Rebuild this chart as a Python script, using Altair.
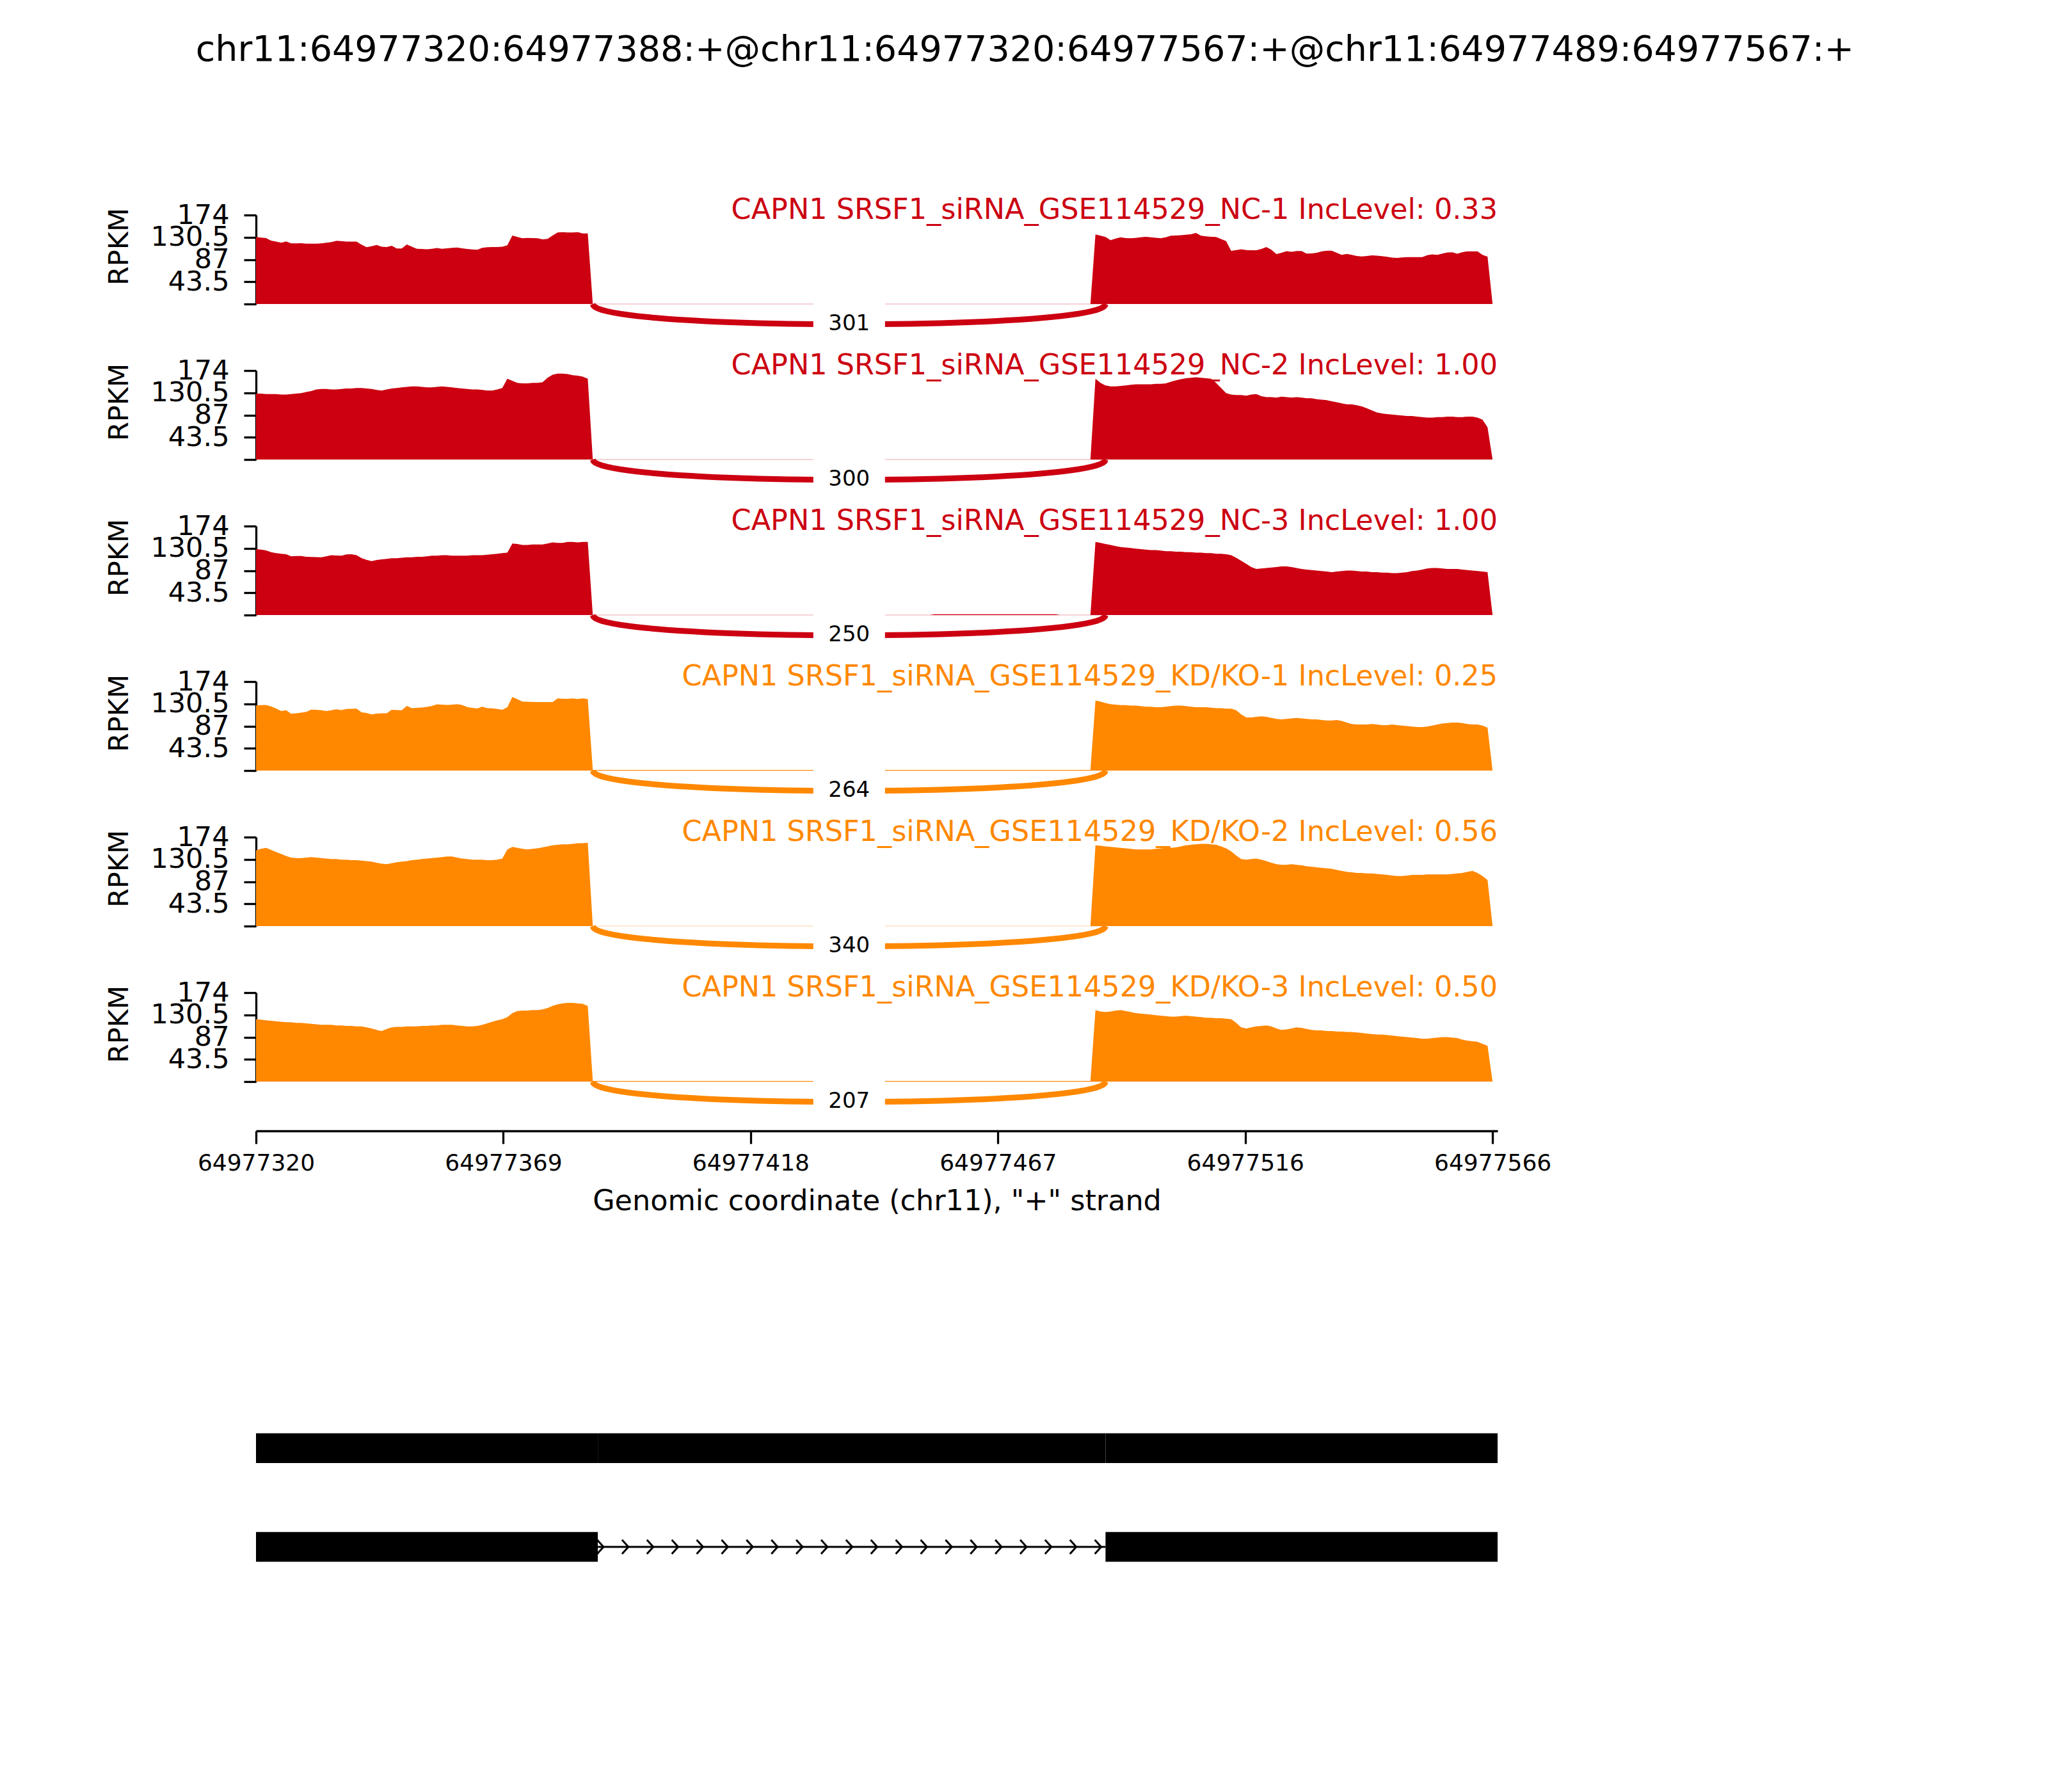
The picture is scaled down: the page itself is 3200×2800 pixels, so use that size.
import altair as alt
import pandas as pd

# ------------------------------------------------------------------ data
TITLE = "chr11:64977320:64977388:+@chr11:64977320:64977567:+@chr11:64977489:64977567:+"
X_LABEL = 'Genomic coordinate (chr11), "+" strand'
GENE = "CAPN1"
STUDY = "SRSF1_siRNA_GSE114529"
X_START = 64977320
X_END = 64977567

samples = ["NC-1", "NC-2", "NC-3", "KD/KO-1", "KD/KO-2", "KD/KO-3"]
inc_levels = ["0.33", "1.00", "1.00", "0.25", "0.56", "0.50"]
groups = ["NC", "NC", "NC", "KD", "KD", "KD"]
group_colors = {"NC": "#CC0011", "KD": "#FF8800"}
junction_counts = [301, 300, 250, 264, 340, 207]
JUNC_START = 64977387
JUNC_END = 64977489

y_ticks = [0, 43.5, 87, 130.5, 174]
x_ticks = [64977320, 64977369.2, 64977418.4, 64977467.6, 64977516.8, 64977566]

# per-base coverage (RPKM)
EXON1_COV_START = 64977320
EXON2_COV_START = 64977487
cov_exon1 = [
    [131, 130, 129, 124, 122, 120, 122.5, 118.5, 118.5, 119,
     118, 118, 118, 118.5, 120, 121, 123.5, 123, 122, 122,
     122, 116, 111, 113, 115.6, 112, 111.5, 114, 108.5, 108.5,
     116.5, 112, 108, 107.5, 107, 108, 109.5, 108, 109, 110,
     110.6, 109, 107.7, 106.8, 106, 110, 111, 111.3, 111.5, 112,
     115, 134, 131, 128.5, 129.4, 129, 128.5, 126.5, 127.5, 134,
     140, 140.5, 140, 140, 140.6, 138, 138],
    [129, 129, 128, 128, 128, 127, 127, 128, 129, 130,
     132, 134, 137, 138, 138, 137, 137, 138, 139, 139,
     140, 140, 139, 138, 136, 135, 137, 139, 140, 141,
     142, 143, 143, 142, 141, 141, 142, 143, 142, 141,
     140, 139, 138, 137, 137, 136, 135, 135, 137, 140,
     158, 154, 150, 149, 149, 150, 150, 151, 160, 166,
     168, 168, 167, 165, 164, 162, 158],
    [129, 128, 126.5, 123, 121, 120, 119, 115, 115.5, 115.5,
     114, 113.5, 113.3, 113, 115, 117, 116.3, 116, 118.5, 119,
     117, 111.5, 108, 105.5, 107.5, 109, 110, 111, 111, 112,
     113, 113, 114, 114, 115, 116, 116, 117, 117, 116,
     116, 116, 116, 117, 117, 117, 118, 119, 120, 121,
     122, 140, 139, 137, 137, 138, 138, 138, 140, 142,
     141, 141, 143, 143, 142, 143, 143],
    [127.5, 128, 128.2, 125.5, 121.5, 116.5, 118, 111, 112, 113.3,
     114.7, 119.3, 119, 118, 116.3, 118, 120, 118.4, 120.5, 120.8,
     121, 113.8, 112.8, 110, 111.5, 112, 112, 118.8, 118.3, 118,
     126.4, 122, 122.7, 123.3, 124.7, 126.3, 129.6, 129, 128.4, 129,
     130, 128.4, 124.3, 122.8, 121.3, 125, 122, 121.8, 120.5, 118.8,
     124, 144, 139.5, 134.8, 134.5, 134.2, 133.9, 133.9, 133.9, 134,
     141, 140.5, 140.2, 141.2, 140, 141, 140],
    [148, 151, 153, 149, 145, 141, 137, 134, 133, 133,
     134, 135, 134, 133, 132, 131, 131, 130, 130, 129,
     129, 128, 127, 126, 124, 122, 121, 123, 125, 126,
     127, 129, 130, 131, 132, 133, 134, 135, 136, 136,
     134, 132, 131, 130, 130, 130, 129, 129, 130, 132,
     150, 155, 153, 151, 150, 151, 152, 154, 156, 158,
     159, 160, 160, 161, 162, 162, 163],
    [122, 121, 120, 119, 118, 117, 116, 116, 115, 115,
     114, 113, 112, 111, 111, 111, 110, 110, 109, 109,
     108, 108, 106, 104, 101, 99, 103, 106, 107, 107,
     108, 108, 108, 109, 109, 110, 110, 111, 111, 111,
     110, 109, 108, 108, 109, 111, 114, 117, 120, 122,
     126, 134, 138, 139, 139, 140, 140, 141, 144, 148,
     151, 153, 154, 154, 153, 152, 148],
]
cov_exon2 = [
    [136, 133.5, 131, 125, 128, 130.5, 129, 128.5, 129.4, 130.5,
     131.3, 130.5, 129.5, 128.5, 130.5, 133.5, 134, 134.7, 135.5, 136.5,
     138.8, 133.5, 132.5, 131.5, 131, 127, 123, 104, 105.5, 107,
     105.6, 105.2, 105, 107.5, 111.5, 106, 97.5, 100, 103.3, 102,
     103.5, 103.5, 98.5, 99, 100, 103, 104.3, 104.3, 100, 96,
     97.8, 96, 94, 92.8, 93.8, 95, 94.5, 93.7, 92.3, 90.8,
     90, 91, 91.8, 91.8, 91.8, 91.8, 95.5, 97, 96.2, 98.5,
     100.8, 101.2, 98.2, 101.5, 103, 103, 103, 96, 92.6],
    [158, 150, 145, 143, 143, 144, 145, 146, 147, 147,
     147, 147, 148, 148, 149, 152, 155, 157, 159, 160,
     161, 160, 159, 158, 150, 140, 130, 127, 126, 126,
     125, 127, 128, 124, 122, 122, 121, 123, 122, 121,
     122, 121, 120, 120, 118, 117, 116, 114, 112, 110,
     108, 108, 106, 104, 100, 96, 92, 90, 89, 88,
     87, 86, 85, 85, 84, 83, 82, 82, 83, 83,
     84, 84, 83, 83, 84, 84, 82, 78, 63],
    [143, 141, 139, 137, 135, 133, 132, 131, 130, 129,
     128, 127, 127, 126, 125, 125, 124, 124, 123, 123,
     122, 122, 121, 121, 120, 120, 119, 117, 112, 106,
     100, 94, 90, 91, 92, 93, 94, 95, 95, 94,
     92, 90, 89, 88, 87, 86, 85, 84, 85, 86,
     87, 87, 86, 85, 85, 84, 84, 83, 83, 82,
     82, 83, 84, 86, 87, 89, 91, 92, 92, 91,
     90, 90, 90, 89, 88, 87, 86, 85, 84],
    [137, 135, 132, 130, 129, 128, 128, 127, 127, 126,
     125, 125, 124, 124, 125, 126, 127, 127, 126, 125,
     124, 124, 124, 123, 122, 122, 121, 121, 118, 110,
     104, 104, 105, 106, 105, 103, 101, 100, 101, 102,
     103, 102, 101, 100, 100, 99, 98, 98, 99, 97,
     94, 91, 90, 90, 90, 91, 90, 89, 89, 90,
     89, 88, 87, 86, 85, 85, 86, 88, 90, 92,
     93, 94, 94, 93, 91, 90, 90, 88, 84],
    [158, 157, 156, 155, 154, 153, 152, 151, 150, 150,
     150, 150, 151, 152, 153, 153, 154, 156, 158, 159,
     160, 161, 161, 160, 159, 156, 152, 146, 138, 131,
     130, 131, 132, 130, 127, 124, 121, 120, 120, 121,
     120, 119, 117, 116, 115, 114, 113, 112, 110, 108,
     106, 105, 104, 104, 103, 103, 102, 101, 100, 99,
     98, 98, 99, 100, 100, 100, 101, 101, 101, 101,
     101, 102, 103, 104, 106, 108, 104, 98, 90],
    [140, 137, 136, 137, 139, 140, 138, 136, 134, 133,
     132, 131, 130, 129, 128, 127, 127, 128, 129, 128,
     127, 126, 125, 125, 124, 124, 123, 122, 115, 106,
     104, 106, 108, 109, 110, 108, 104, 101, 102, 104,
     106, 105, 103, 101, 100, 100, 99, 99, 98, 98,
     97, 97, 96, 95, 94, 93, 92, 92, 91, 90,
     89, 88, 87, 86, 85, 84, 84, 85, 86, 87,
     87, 86, 85, 82, 80, 79, 78, 74, 70],
]
# low intronic coverage seen as a thin line on the baseline: (first bp, last bp, RPKM)
intron_cov = [
    [],
    [],
    [(64977455, 64977479, 1.5)],
    [(64977387, 64977486, 1.2)],
    [],
    [(64977387, 64977486, 1.2)],
]

# gene structure: (transcript row, exon start, exon end)
tx_rows = [1, 1, 1, 2, 2]
tx_starts = [64977320, 64977388, 64977489, 64977320, 64977489]
tx_ends = [64977388, 64977489, 64977567, 64977388, 64977567]
intron_rows = [2]
intron_starts = [64977388]
intron_ends = [64977489]

# ------------------------------------------------------------------ style
FONT = "DejaVu Sans"
W, H = 1940, 139
ARC_H = 53.0          # bezier control depth (RPKM units)
ARC_T = [i / 50 for i in range(51)]   # curve parameter samples

x_scale = alt.Scale(domain=[X_START, X_END], nice=False, zero=False)
y_scale = alt.Scale(domain=[0, 174], nice=False)

y_axis = alt.Axis(
    values=y_ticks, labelExpr="datum.value == 0 ? '' : '' + datum.value",
    title="RPKM", titleFontSize=43, titleFontWeight="normal",
    titleX=-214, titleY=49, titleAngle=270, titleBaseline="middle", titleAlign="center",
    labelFontSize=43, labelPadding=23, tickSize=19, tickWidth=3.3, domainWidth=3.3,
    domainColor="black", tickColor="black", labelColor="black", titleColor="black",
    grid=False, labelOverlap=False, labelFlush=False, labelLimit=400,
)
x_axis_bottom = alt.Axis(
    values=x_ticks, labelExpr="floor(datum.value)", offset=77,
    tickSize=20, tickWidth=3.3, domainWidth=3.3, domainColor="black", tickColor="black",
    labelFontSize=36, labelPadding=13, labelColor="black", labelFlush=False, labelOverlap=False,
    labelLimit=600,
    title=X_LABEL, titleFontSize=44.5, titleFontWeight="normal", titleColor="black",
    titlePadding=20, titleLimit=2000, grid=False,
)


def panel(k, last):
    color = group_colors[groups[k]]
    e1, e2 = cov_exon1[k], cov_exon2[k]
    e1_end = EXON1_COV_START + len(e1)
    intron_pos = list(range(e1_end, EXON2_COV_START))
    intron_val = []
    for p in intron_pos:
        v = 0
        for s, e, lvl in intron_cov[k]:
            if s <= p <= e:
                v = lvl
        intron_val.append(v)
    pos = (list(range(EXON1_COV_START, e1_end)) + intron_pos
           + list(range(EXON2_COV_START, EXON2_COV_START + len(e2)))
           + [EXON2_COV_START + len(e2)])
    val = list(e1) + intron_val + list(e2) + [0]
    cov = pd.DataFrame({"pos": pos, "v": val})

    xax = x_axis_bottom if last else None
    X = alt.X("pos:Q", scale=x_scale, axis=xax)
    Y = alt.Y("v:Q", scale=y_scale, axis=y_axis)

    area = alt.Chart(cov).mark_area(color=color, interpolate="linear").encode(x=X, y=Y)

    junc = pd.DataFrame({"start": [JUNC_START], "end": [JUNC_END],
                         "count": [junction_counts[k]], "t": [ARC_T]})
    base_line = (alt.Chart(junc).transform_calculate(pos="datum.start", v="0")
                 .mark_rule(color=color, strokeWidth=1.2, opacity=0.35)
                 .encode(x=X, x2="end:Q", y=Y))
    arc = (alt.Chart(junc).transform_flatten(["t"])
           .transform_calculate(
               pos="datum.start + (datum.end - datum.start) * (3 * datum.t * datum.t - 2 * pow(datum.t, 3))",
               v=f"-3 * {ARC_H} * datum.t * (1 - datum.t)")
           .mark_line(color=color, strokeWidth=9, strokeCap="butt")
           .encode(x=X, y=Y, order="t:Q"))
    mid = alt.Chart(junc).transform_calculate(pos="(datum.start + datum.end) / 2")
    box = mid.mark_rule(color="white", strokeWidth=112, strokeCap="butt").encode(
        x=X, y=alt.value(130), y2=alt.value(210))
    jtxt = mid.mark_text(fontSize=34, baseline="middle", align="center", color="black").encode(
        x=X, y=alt.value(170), text="count:Q")

    lab = pd.DataFrame({"label": [f"{GENE} {STUDY}_{samples[k]} IncLevel: {inc_levels[k]}"]})
    stxt = alt.Chart(lab).mark_text(fontSize=44.5, align="right", baseline="alphabetic", color=color).encode(
        x=alt.value(W), y=alt.value(6), text="label:N")

    return alt.layer(area, base_line, arc, box, jtxt, stxt).properties(width=W, height=H)


panels = [panel(k, k == len(samples) - 1) for k in range(len(samples))]

# gene structure
ex = pd.DataFrame({"row": tx_rows, "start": tx_starts, "end": tx_ends})
intr = pd.DataFrame({"row": intron_rows, "start": intron_starts, "end": intron_ends,
                     "k": [list(range(21))]})
GX = alt.X("start:Q", scale=x_scale, axis=None)
gy_scale = alt.Scale(domain=[-2.0376, 2.499], reverse=True, nice=False, zero=False)
exons = (alt.Chart(ex).transform_calculate(y1="datum.row - 0.151", y2="datum.row + 0.151")
         .mark_rect(color="black")
         .encode(x=GX, x2="end:Q", y=alt.Y("y1:Q", scale=gy_scale, axis=None), y2="y2:Q"))
intron_line = alt.Chart(intr).mark_rule(color="black", strokeWidth=3).encode(
    x=GX, x2="end:Q", y=alt.Y("row:Q", scale=gy_scale, axis=None))
chevrons = (alt.Chart(intr).transform_flatten(["k"])
            .transform_calculate(p="datum.start + 0.5 + datum.k * (datum.end - datum.start - 2) / 20")
            .mark_point(shape="M -0.45 -1 L 0.45 0 L -0.45 1", filled=False, stroke="black",
                        strokeWidth=3, size=484, opacity=1)
            .encode(x=alt.X("p:Q", scale=x_scale, axis=None),
                    y=alt.Y("row:Q", scale=gy_scale, axis=None)))
gene = alt.layer(exons, intron_line, chevrons).properties(width=W, height=700)

chart = (alt.vconcat(*panels, gene, spacing=104, bounds="flush")
         .properties(
             title=alt.TitleParams(TITLE, fontSize=55.5, fontWeight="normal", font=FONT,
                                   anchor="middle", dx=307, offset=200, color="black"),
             padding={"left": 157, "top": 42, "right": 20, "bottom": 20},
             background="white")
         .configure_view(stroke=None)
         .configure_axis(labelFont=FONT, titleFont=FONT)
         .configure_text(font=FONT)
         .configure_title(font=FONT))

chart.save("out.html", embed_options={"renderer": "svg", "actions": False})
